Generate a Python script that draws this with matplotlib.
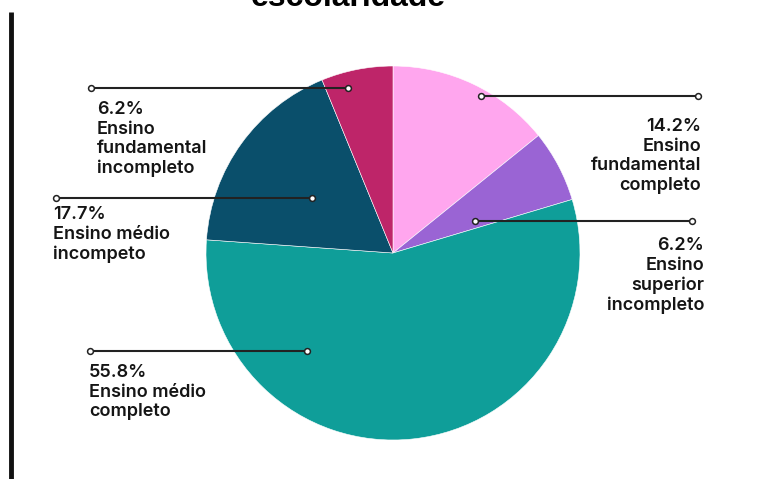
import matplotlib
matplotlib.use("Agg")
import matplotlib.pyplot as plt

# escolaridade distribution, clockwise from 12 o'clock
categorias = [
    "Ensino\nfundamental\ncompleto",
    "Ensino\nsuperior\nincompleto",
    "Ensino médio\ncompleto",
    "Ensino médio\nincompeto",
    "Ensino\nfundamental\nincompleto",
]
percentuais = [14.2, 6.2, 55.8, 17.7, 6.2]
cores = ["#FFA6EE", "#9A64D4", "#0F9E99", "#0A4F6B", "#BE2569"]

# leader lines / labels in pixel coords, y from top:
# line y, inner x, outer x, label x, label top, alignment
leaders = [
    (96, 481, 698, 701, 119, "right"),
    (221, 475, 692, 704, 238, "right"),
    (351, 307, 90, 89, 365, "left"),
    (198, 312, 56, 53, 207, "left"),
    (88, 348, 91, 97, 102, "left"),
]

W, H = 761, 479
fig = plt.figure(figsize=(W / 100, H / 100), dpi=100)
ax = fig.add_axes([0, 0, 1, 1])

ax.pie(percentuais, colors=cores, startangle=90, counterclock=False,
       center=(393, H - 253), radius=187,
       wedgeprops=dict(edgecolor="white", linewidth=0.4))
ax.set_xlim(0, W)
ax.set_ylim(0, H)
ax.set_aspect("equal")
ax.axis("off")

font = dict(family=["Inter", "DejaVu Sans"], weight="semibold", fontsize=13,
            color="#151515", linespacing=1.2)

for (y, x_in, x_out, lx, ly, side), pct, nome in zip(leaders, percentuais, categorias):
    yy = H - y
    ax.plot([x_in, x_out], [yy, yy], color="#222222", lw=1.5,
            marker="o", ms=4.2, mfc="white", mec="#222222", mew=1.1, zorder=5)
    ax.text(lx, H - ly + 1, f"{pct}%\n{nome}", ha=side, va="top",
            multialignment=side, **font)

# left rule
ax.plot([11, 11], [H - 12, 0], color="#111111", lw=3.5, solid_capstyle="butt")

ax.text(348, H - 6, "escolaridade", ha="center", va="baseline",
        family="Liberation Sans", weight="bold", fontsize=23, color="black")

fig.savefig("out.png", dpi=100)
